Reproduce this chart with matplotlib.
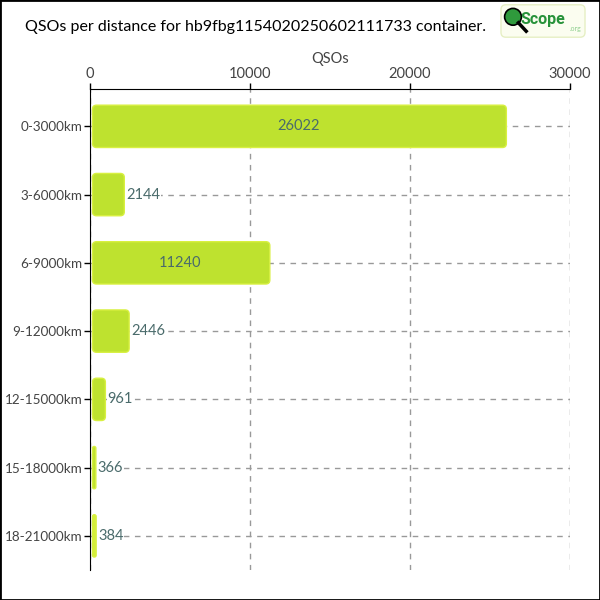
import matplotlib
matplotlib.use("Agg")
import matplotlib.pyplot as plt
from matplotlib.patches import FancyBboxPatch, Circle, Rectangle

categories = ["0-3000km", "3-6000km", "6-9000km", "9-12000km",
              "12-15000km", "15-18000km", "18-21000km"]
qsos = [26022, 2144, 11240, 2446, 961, 366, 384]
xticks = [0, 10000, 20000, 30000]

plt.rcParams['font.family'] = ['Lato', 'DejaVu Sans']

fig = plt.figure(figsize=(6, 6), dpi=100)
fig.patches.append(Rectangle((0, 0), 1, 1, transform=fig.transFigure,
                             fill=False, edgecolor='black', linewidth=2))
ax = fig.add_axes([0.15, 0.05, 0.80, 0.802])

ax.set_xlim(0, 30000)
ax.set_ylim(len(qsos) - 0.5, -0.55)

# pixel sizes in data units, for rounded corners
px_x = 30000 / 480.0
px_y = 7.05 / 481.0
aspect = px_y / px_x

bar_h = 0.62
for i, v in enumerate(qsos):
    color = '#d3ee3a' if i == len(qsos) - 1 else '#bee22f'
    x0 = 2.5 * px_x
    w = v - x0
    r = min(4 * px_x, w / 2)
    box = FancyBboxPatch((x0, i - bar_h / 2), w, bar_h,
                         boxstyle="round,pad=0,rounding_size=%f" % r,
                         mutation_aspect=aspect, facecolor=color,
                         edgecolor='#d8f040', linewidth=1, zorder=3)
    ax.add_patch(box)
    if v > 8000:
        ax.text(v / 2, i, str(v), ha='center', va='center', color='#4a6b6b',
                fontsize=10.5, zorder=4)
    else:
        ax.text(v + 120, i, str(v), ha='left', va='center', color='#4a6b6b',
                fontsize=10.5, zorder=4,
                bbox=dict(facecolor='white', edgecolor='none', pad=0.5))

ax.set_yticks(range(len(categories)))
ax.set_yticklabels(categories, fontsize=9.7, color='#444444')
ax.xaxis.tick_top()
ax.xaxis.set_label_position('top')
ax.set_xticks(xticks)
ax.set_xticklabels([str(t) for t in xticks], fontsize=10.5, color='#444444')
ax.set_xlabel("QSOs", fontsize=10.5, color='#444444', labelpad=3)
ax.tick_params(axis='both', length=4, width=1, color='black', pad=1.5)
ax.spines['right'].set_visible(False)
ax.spines['bottom'].set_visible(False)
ax.grid(True, linestyle=(0, (4, 4)), color='#999999', linewidth=1, zorder=0)
ax.set_axisbelow(True)

fig.text(0.042, 0.955, "QSOs per distance for hb9fbg1154020250602111733 container.",
         fontsize=11.5, va='center', ha='left', color='black')

# logo box
fig.patches.append(FancyBboxPatch((0.835, 0.938), 0.140, 0.054,
                                  boxstyle="round,pad=0,rounding_size=0.008",
                                  transform=fig.transFigure, facecolor='#fbfdf0',
                                  edgecolor='#e6efc4', linewidth=1))
fig.patches.append(Circle((0.855, 0.972), 0.014, transform=fig.transFigure,
                          facecolor='#2f9a3c', edgecolor='black', linewidth=1.2))
fig.lines.append(plt.Line2D([0.864, 0.877], [0.962, 0.948], transform=fig.transFigure,
                            color='black', linewidth=2.5))
fig.text(0.868, 0.968, "Scope", fontsize=11.5, color='#27923a', fontweight='bold',
         va='center', ha='left', family='Roboto')
fig.text(0.950, 0.953, ".org", fontsize=5, color='#8fcf8f', va='center', ha='left')

fig.savefig("out.png", dpi=100)
